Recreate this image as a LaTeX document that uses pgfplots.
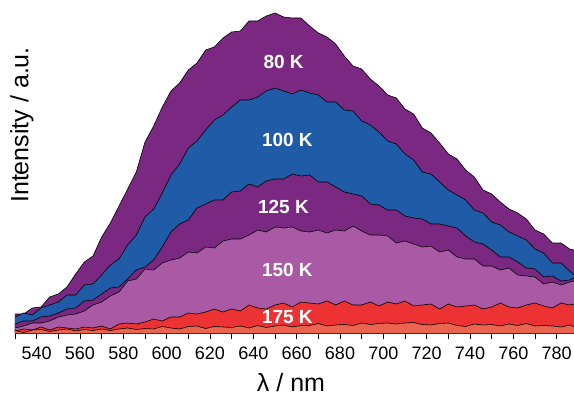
\documentclass[border=0pt]{standalone}
\usepackage{pgfplots}
\pgfplotsset{compat=1.18}
\usepackage{pgfplotstable}
\usepackage{fontspec}
\setmainfont{Liberation Sans}
\definecolor{c80}{RGB}{123,40,130}
\definecolor{c100}{RGB}{31,91,167}
\definecolor{c150}{RGB}{170,90,165}
\definecolor{c175}{RGB}{237,50,52}
\definecolor{cbot}{RGB}{234,100,80}

\pgfplotstableread{
x y
530 19
534 19
538 25
542 26
546 36
550 39
554 46
558 59
562 71
566 77
570 96
574 110
578 127
582 144
586 161
590 191
594 207
598 226
602 242
606 250
610 263
614 270
618 283
622 286
626 295
630 301
634 302
638 312
642 312
646 317
650 320
654 316
658 315
662 315
666 307
670 300
674 296
678 289
682 277
686 267
690 264
694 254
698 247
702 238
706 235
710 224
714 219
718 205
722 200
726 190
730 179
734 174
738 163
742 156
746 143
750 139
754 131
758 124
762 120
766 114
770 103
774 99
778 90
782 90
786 84
788 83
}\dA

\pgfplotstableread{
x y
530 16
534 20
538 18
542 25
546 28
550 31
554 38
558 38
562 48
566 49
570 58
574 68
578 74
582 88
586 98
590 116
594 124
598 140
602 158
606 169
610 185
614 192
618 203
622 213
626 218
630 226
634 233
638 233
642 236
646 242
650 245
654 242
658 239
662 243
666 240
670 238
674 231
678 231
682 223
686 222
690 212
694 208
698 201
702 192
706 189
710 179
714 173
718 161
722 159
726 151
730 143
734 138
738 133
742 123
746 120
750 111
754 108
758 101
762 97
766 93
770 84
774 80
778 70
782 70
786 62
788 58
}\dB

\pgfplotstableread{
x y
530 9
534 12
538 12
542 16
546 17
550 20
554 24
558 25
562 32
566 33
570 39
574 45
578 46
582 54
586 63
590 66
594 73
598 86
602 101
606 109
610 113
614 125
618 129
622 133
626 133
630 141
634 142
638 149
642 146
646 152
650 154
654 154
658 159
662 157
666 158
670 151
674 151
678 146
682 141
686 139
690 137
694 129
698 128
702 123
706 123
710 117
714 115
718 114
722 109
726 109
730 107
734 105
738 97
742 91
746 89
750 83
754 76
758 76
762 71
766 65
770 64
774 56
778 57
782 52
786 53
788 55
}\dC

\pgfplotstableread{
x y
530 5
534 7
538 10
542 10
546 12
550 16
554 18
558 19
562 22
566 28
570 31
574 37
578 41
582 52
586 54
590 64
594 63
598 70
602 73
606 75
610 81
614 80
618 86
622 85
626 92
630 94
634 94
638 98
642 103
646 101
650 106
654 105
658 106
662 102
666 101
670 103
674 100
678 103
682 102
686 107
690 102
694 98
698 98
702 97
706 90
710 92
714 89
718 86
722 87
726 81
730 83
734 76
738 74
742 74
746 67
750 67
754 63
758 65
762 58
766 57
770 56
774 49
778 51
782 48
786 51
788 52
}\dD

\pgfplotstableread{
x y
530 2
534 4
538 3
542 6
546 3
550 6
554 5
558 4
562 6
566 5
570 7
574 4
578 9
582 10
586 9
590 11
594 14
598 12
602 16
606 16
610 20
614 19
618 21
622 24
626 21
630 24
634 22
638 28
642 25
646 24
650 28
654 30
658 26
662 31
666 30
670 29
674 32
678 28
682 32
686 28
690 28
694 31
698 27
702 31
706 29
710 32
714 27
718 28
722 29
726 24
730 29
734 26
738 27
742 28
746 24
750 26
754 30
758 26
762 25
766 28
770 30
774 27
778 25
782 30
786 28
788 29
}\dE

\pgfplotstableread{
x y
530 2.5
534 0.5
538 3
542 3.5
546 1.5
550 3
554 4
558 2
562 3.5
566 2.5
570 4
574 2.5
578 4
582 5
586 3.5
590 4.5
594 4
598 6.5
602 5
606 4
610 6.5
614 7
618 4.5
622 6.5
626 6
630 5.5
634 7
638 5
642 7.5
646 5.5
650 7
654 8
658 6
662 7.5
666 7.5
670 9.5
674 7
678 8
682 8.5
686 7.5
690 10
694 8.5
698 9.5
702 10
706 9
710 10
714 10.5
718 8.5
722 8
726 9.5
730 10
734 7.5
738 6.5
742 9
746 8
750 8.5
754 7
758 9
762 7.5
766 9.5
770 7
774 7.5
778 7
782 6
786 8
788 6.5
}\dF

\begin{document}
\begin{tikzpicture}
\begin{axis}[
  scale only axis,
  width=559pt, height=333pt,
  xmin=530, xmax=788, ymin=0, ymax=333,
  axis x line*=bottom,
  axis y line=none,
  axis line style={black, line width=0.8pt},
  xtick={540,560,...,780},
  minor xtick={530,550,...,770},
  ytick=\empty,
  tick align=outside,
  major tick length=6pt,
  minor tick length=6pt,
  tick style={black, line width=0.7pt},
  /pgf/number format/assume math mode=true,
  /pgf/number format/set thousands separator={},
  xticklabel style={font=\fontsize{18}{20}\selectfont, yshift=-4pt},
]
\addplot[fill=c80, draw=none] table {\dA} \closedcycle;
\addplot[black, line width=0.6pt] table {\dA};
\addplot[fill=c100, draw=none] table {\dB} \closedcycle;
\addplot[black, line width=0.6pt] table {\dB};
\addplot[fill=c80, draw=none] table {\dC} \closedcycle;
\addplot[black, line width=0.6pt] table {\dC};
\addplot[fill=c150, draw=none] table {\dD} \closedcycle;
\addplot[black, line width=0.6pt] table {\dD};
\addplot[fill=c175, draw=none] table {\dE} \closedcycle;
\addplot[black, line width=0.6pt] table {\dE};
\addplot[fill=cbot, draw=none] table {\dF} \closedcycle;
\addplot[black, line width=0.6pt] table {\dF};
\begin{scope}[every node/.style={text=white, font=\bfseries\fontsize{19}{21}\selectfont}]
\node at (axis cs:654,271) {80 K};
\node at (axis cs:655.7,193) {100 K};
\node at (axis cs:653.9,126) {125 K};
\node at (axis cs:655.7,63) {150 K};
\node at (axis cs:655.7,16) {175 K};
\end{scope}
\end{axis}
\node[rotate=90, font=\fontsize{25}{30}\selectfont] at (7pt,208pt) {Intensity / a.u.};
\node[font=\fontsize{25}{30}\selectfont] at (276pt,-50pt) {λ / nm};
\pgfresetboundingbox
\useasboundingbox (-15pt,-64pt) rectangle (559pt,333pt);
\end{tikzpicture}
\end{document}
